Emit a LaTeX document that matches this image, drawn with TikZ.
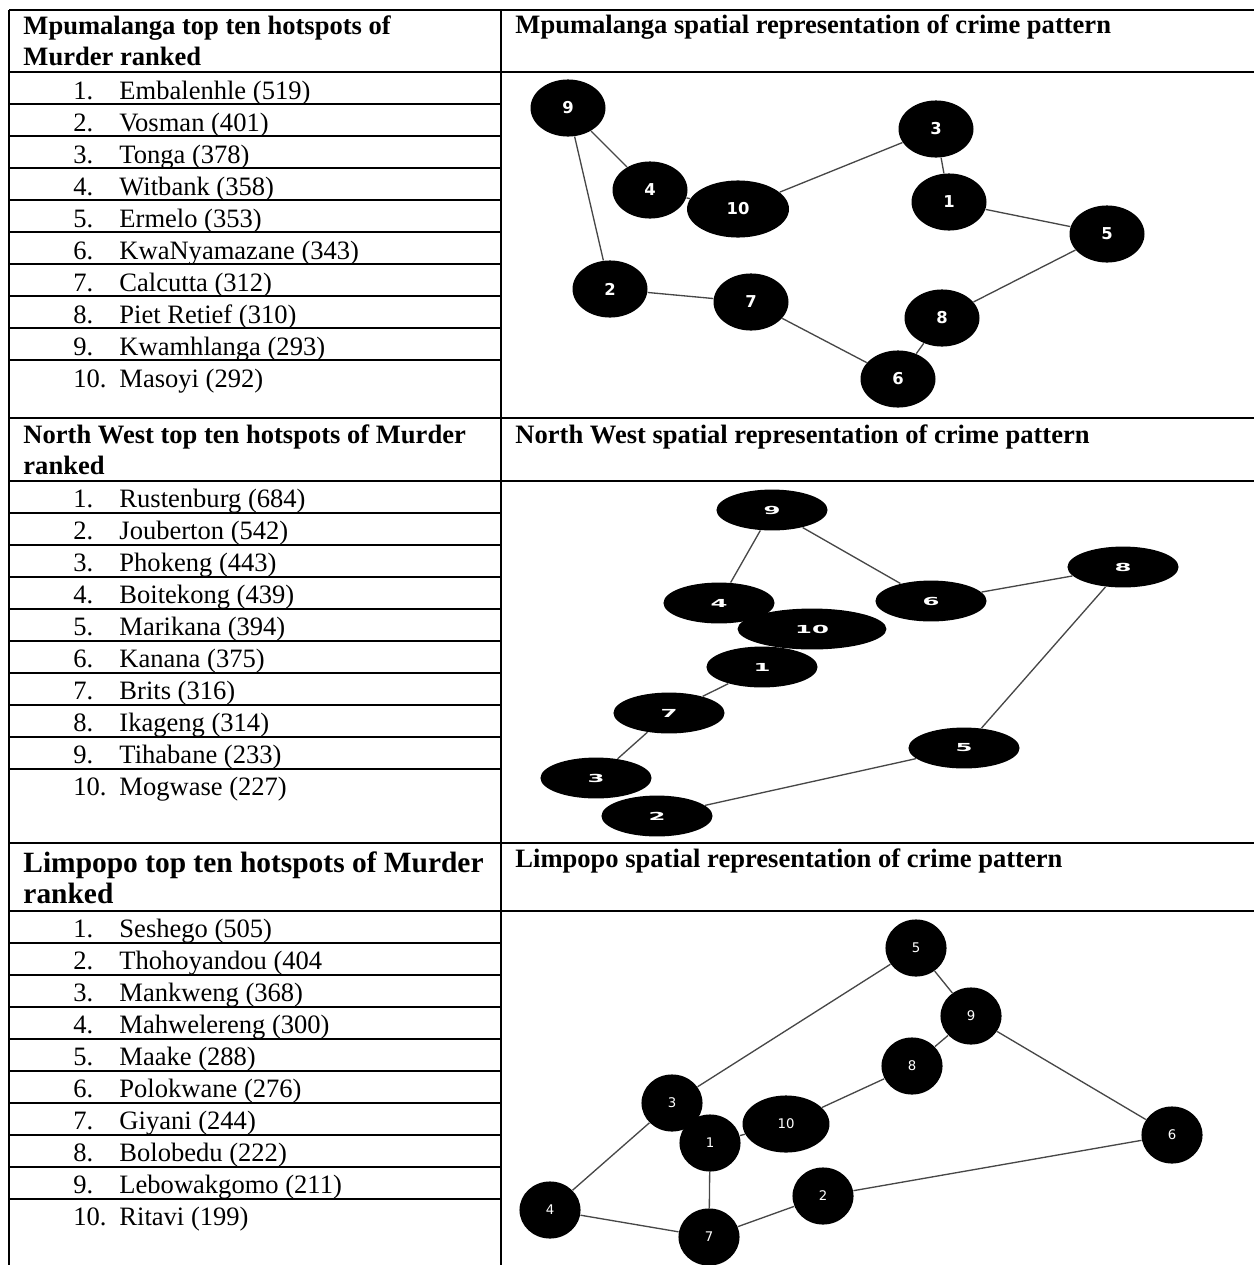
\documentclass[tikz,border=0pt]{standalone}
\usepackage{fontspec}
\setmainfont{Liberation Serif}
\newfontfamily\spotfont{DejaVu Sans}
\newfontfamily\widespotfont[FakeStretch=2.2]{DejaVu Sans}
\usepackage{tikz}
\usetikzlibrary{shapes.geometric}

\newcommand{\rk}[2]{\makebox[20.8pt][l]{#1}#2}

\begin{document}
\begin{tikzpicture}[x=0.452pt,y=-0.452pt]
  \tikzstyle{tabline}=[line width=0.85pt]
  \tikzstyle{head}=[anchor=base west,inner sep=0pt,align=left,font=\bfseries\fontsize{12}{13.6}\selectfont]
  \tikzstyle{rank}=[anchor=base west,inner sep=0pt,font=\fontsize{12}{13.6}\selectfont]
  \tikzstyle{spot}=[ellipse,fill=black,inner sep=0pt,text=white]
  \tikzstyle{mpspot}=[spot,minimum width=33.9pt,minimum height=25.8pt,font=\spotfont\bfseries\fontsize{7.4}{8}\selectfont]
  \tikzstyle{nwspot}=[spot,minimum width=50.2pt,minimum height=18.5pt,font=\widespotfont\bfseries\fontsize{5}{6}\selectfont]
  \tikzstyle{lpspot}=[spot,minimum width=27.6pt,minimum height=25.8pt,font=\spotfont\fontsize{6}{7}\selectfont]
  \tikzstyle{link}=[draw=black!72,line width=0.6pt]

  \useasboundingbox (0,0) rectangle (1254,1265);

  % table frame
  \draw[tabline] (9,10) -- (1254,10);
  \draw[tabline] (9,10) -- (9,1265);
  \draw[tabline] (501,10) -- (501,1265);
  \draw[tabline] (9,418) -- (1254,418);
  \draw[tabline] (9,843) -- (1254,843);
  \draw[tabline] (9,72) -- (1254,72);
  \draw[tabline] (9,481) -- (1254,481);
  \draw[tabline] (9,911) -- (1254,911);
  \foreach \y in {104,136,...,360} \draw[tabline] (9,\y) -- (501,\y);
  \foreach \y in {513,545,...,769} \draw[tabline] (9,\y) -- (501,\y);
  \foreach \y in {943,975,...,1199} \draw[tabline] (9,\y) -- (501,\y);

  % Mpumalanga
  \node[head] (mphead) at (23,65) {Mpumalanga top ten hotspots of\\Murder ranked};
  \node[head] (mpmap) at (515,33) {Mpumalanga spatial representation of crime pattern};
  \node[rank] (mpr1) at (73,99) {\rk{1.}{Embalenhle (519)}};
  \node[rank] (mpr2) at (73,131) {\rk{2.}{Vosman (401)}};
  \node[rank] (mpr3) at (73,163) {\rk{3.}{Tonga (378)}};
  \node[rank] (mpr4) at (73,195) {\rk{4.}{Witbank (358)}};
  \node[rank] (mpr5) at (73,227) {\rk{5.}{Ermelo (353)}};
  \node[rank] (mpr6) at (73,259) {\rk{6.}{KwaNyamazane (343)}};
  \node[rank] (mpr7) at (73,291) {\rk{7.}{Calcutta (312)}};
  \node[rank] (mpr8) at (73,323) {\rk{8.}{Piet Retief (310)}};
  \node[rank] (mpr9) at (73,355) {\rk{9.}{Kwamhlanga (293)}};
  \node[rank] (mpr10) at (73,387) {\rk{10.}{Masoyi (292)}};

  \node[mpspot] (mp9) at (568,108) {9};
  \node[mpspot] (mp4) at (650,190) {4};
  \node[mpspot,minimum width=46.1pt] (mp10) at (738,209) {10};
  \node[mpspot] (mp3) at (936,129) {3};
  \node[mpspot] (mp1) at (949,202) {1};
  \node[mpspot] (mp5) at (1107,234) {5};
  \node[mpspot] (mp2) at (610,289) {2};
  \node[mpspot] (mp7) at (751,302) {7};
  \node[mpspot] (mp8) at (942,318) {8};
  \node[mpspot] (mp6) at (898,379) {6};

  \draw[link] (mp9) -- (mp4);
  \draw[link] (mp4) -- (mp10);
  \draw[link] (mp10) -- (mp3);
  \draw[link] (mp3) -- (mp1);
  \draw[link] (mp1) -- (mp5);
  \draw[link] (mp5) -- (mp8);
  \draw[link] (mp8) -- (mp6);
  \draw[link] (mp6) -- (mp7);
  \draw[link] (mp7) -- (mp2);
  \draw[link] (mp2) -- (mp9);

  % North West
  \node[head] (nwhead) at (23,474) {North West top ten hotspots of Murder\\ranked};
  \node[head] (nwmap) at (515,443) {North West spatial representation of crime pattern};
  \node[rank] (nwr1) at (73,507) {\rk{1.}{Rustenburg (684)}};
  \node[rank] (nwr2) at (73,539) {\rk{2.}{Jouberton (542)}};
  \node[rank] (nwr3) at (73,571) {\rk{3.}{Phokeng (443)}};
  \node[rank] (nwr4) at (73,603) {\rk{4.}{Boitekong (439)}};
  \node[rank] (nwr5) at (73,635) {\rk{5.}{Marikana (394)}};
  \node[rank] (nwr6) at (73,667) {\rk{6.}{Kanana (375)}};
  \node[rank] (nwr7) at (73,699) {\rk{7.}{Brits (316)}};
  \node[rank] (nwr8) at (73,731) {\rk{8.}{Ikageng (314)}};
  \node[rank] (nwr9) at (73,763) {\rk{9.}{Tihabane (233)}};
  \node[rank] (nwr10) at (73,795) {\rk{10.}{Mogwase (227)}};

  \node[nwspot] (nw9) at (772,510) {9};
  \node[nwspot] (nw8) at (1123,567) {8};
  \node[nwspot] (nw4) at (719,603) {4};
  \node[nwspot] (nw6) at (931,601) {6};
  \node[nwspot,minimum width=67.3pt] (nw10) at (812,629) {10};
  \node[nwspot] (nw1) at (762,667) {1};
  \node[nwspot] (nw7) at (669,713) {7};
  \node[nwspot] (nw5) at (964,748) {5};
  \node[nwspot] (nw3) at (596,778) {3};
  \node[nwspot] (nw2) at (657,816) {2};

  \draw[link] (nw9) -- (nw4);
  \draw[link] (nw9) -- (nw6);
  \draw[link] (nw6) -- (nw8);
  \draw[link] (nw8) -- (nw5);
  \draw[link] (nw5) -- (nw2);
  \draw[link] (nw1) -- (nw7);
  \draw[link] (nw7) -- (nw3);

  % Limpopo
  \node[head,font=\bfseries\fontsize{13.3}{14}\selectfont] (lphead) at (23,903) {Limpopo top ten hotspots of Murder\\ranked};
  \node[head] (lpmap) at (515,867) {Limpopo spatial representation of crime pattern};
  \node[rank] (lpr1) at (73,937) {\rk{1.}{Seshego (505)}};
  \node[rank] (lpr2) at (73,969) {\rk{2.}{Thohoyandou (404}};
  \node[rank] (lpr3) at (73,1001) {\rk{3.}{Mankweng (368)}};
  \node[rank] (lpr4) at (73,1033) {\rk{4.}{Mahwelereng (300)}};
  \node[rank] (lpr5) at (73,1065) {\rk{5.}{Maake (288)}};
  \node[rank] (lpr6) at (73,1097) {\rk{6.}{Polokwane (276)}};
  \node[rank] (lpr7) at (73,1129) {\rk{7.}{Giyani (244)}};
  \node[rank] (lpr8) at (73,1161) {\rk{8.}{Bolobedu (222)}};
  \node[rank] (lpr9) at (73,1193) {\rk{9.}{Lebowakgomo (211)}};
  \node[rank] (lpr10) at (73,1225) {\rk{10.}{Ritavi (199)}};

  \node[lpspot] (lp5) at (916,948) {5};
  \node[lpspot] (lp9) at (971,1016) {9};
  \node[lpspot] (lp8) at (912,1066) {8};
  \node[lpspot] (lp3) at (672,1103) {3};
  \node[lpspot,minimum width=39.3pt] (lp10) at (786,1124) {10};
  \node[lpspot] (lp1) at (710,1143) {1};
  \node[lpspot] (lp6) at (1172,1135) {6};
  \node[lpspot] (lp2) at (823,1196) {2};
  \node[lpspot] (lp4) at (550,1210) {4};
  \node[lpspot] (lp7) at (709,1237) {7};

  \draw[link] (lp5) -- (lp3);
  \draw[link] (lp5) -- (lp9);
  \draw[link] (lp9) -- (lp8);
  \draw[link] (lp9) -- (lp6);
  \draw[link] (lp8) -- (lp10);
  \draw[link] (lp10) -- (lp1);
  \draw[link] (lp3) -- (lp4);
  \draw[link] (lp1) -- (lp7);
  \draw[link] (lp4) -- (lp7);
  \draw[link] (lp7) -- (lp2);
  \draw[link] (lp2) -- (lp6);
\end{tikzpicture}
\end{document}
